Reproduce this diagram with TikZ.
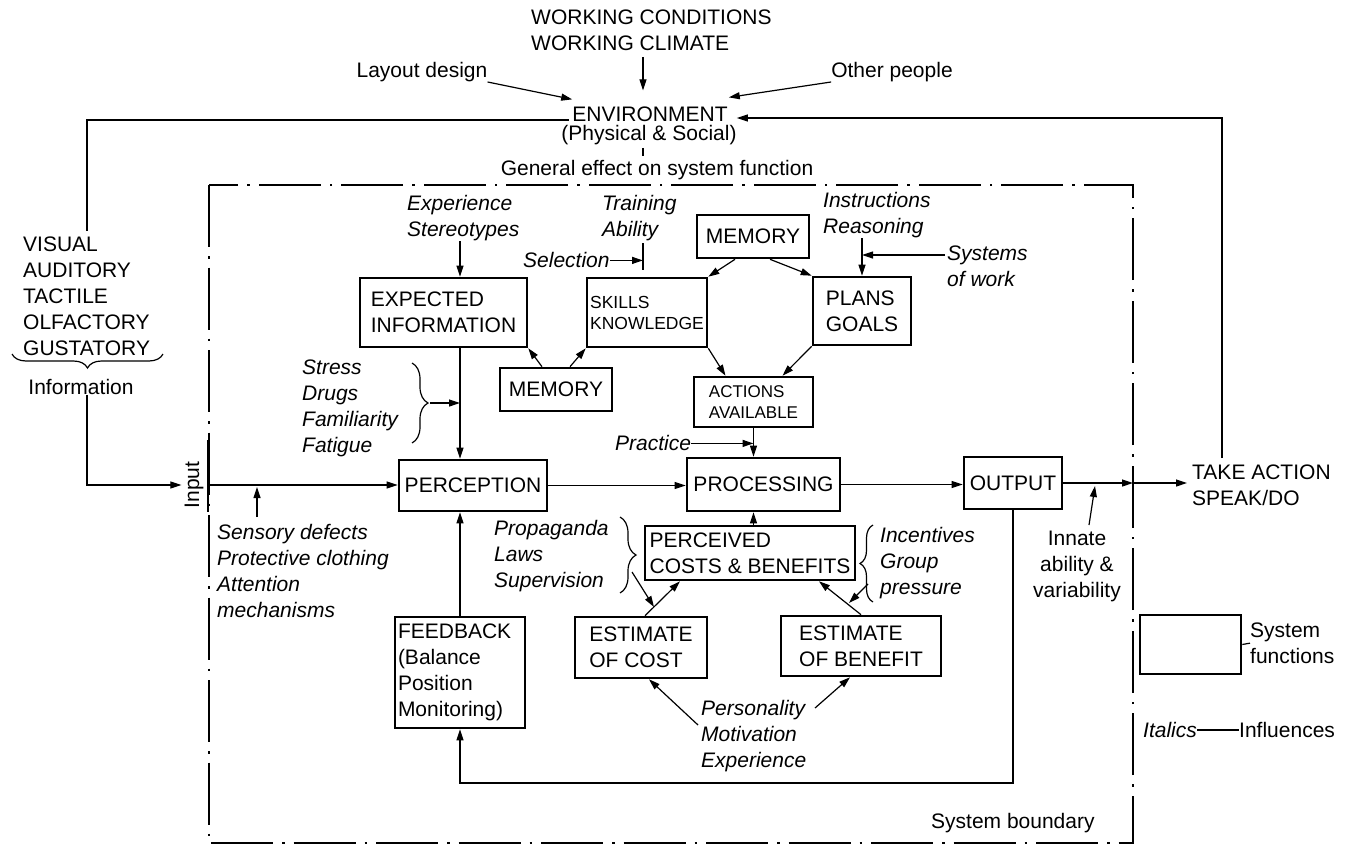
\documentclass[tikz,border=0pt]{standalone}
\usepackage{fontspec}
\setmainfont{Liberation Sans}
\usetikzlibrary{arrows.meta,decorations.pathreplacing,calc}
\hyphenpenalty=10000
\exhyphenpenalty=10000
\begin{document}
\begin{tikzpicture}[x=1pt,y=-1pt,
  every node/.style={font=\fontsize{21}{26}\selectfont, inner sep=0pt},
  it/.style={font=\fontsize{21}{26}\selectfont\itshape, align=left, anchor=north west},
  up/.style={align=left, anchor=north west},
  box/.style={draw, line width=2.6pt, align=left},
  small/.style={font=\fontsize{17.5}{21}\selectfont},
  con/.style={line width=1.2pt},
  arr/.style={con, -{Triangle[length=11pt,width=7pt]}},
  bound/.style={line width=2pt, dash pattern=on 62pt off 9pt on 2.5pt off 9pt},
  brc/.style={con, decorate, decoration={brace, amplitude=#1}},
]
\useasboundingbox (0,0) rectangle (1349,846);
\fill[white] (0,0) rectangle (1349,846);

% ---------- top ----------
\node[up] (wc) at (531,9.5) {WORKING CONDITIONS\\WORKING CLIMATE};
\node (env) at (650,114) {ENVIRONMENT};
\node (phys) at (649,135) {(Physical \& Social)};
\node (gen) at (657,170) {General effect on system function};
\node (lay) at (422,72) {Layout design};
\node (oth) at (892,72) {Other people};
\coordinate (ax) at (643,0);
\draw[arr, shorten <=6pt, shorten >=16pt] (wc.south -| ax) -- (env.north -| ax);
\draw[arr] (lay.south east) -- ([yshift=7pt]env.north west);
\draw[arr] (oth.south west) -- ([yshift=9pt,xshift=1pt]env.north east);
\draw[con, shorten <=3pt, shorten >=4pt] (phys.south -| ax) -- (gen.north -| ax);

% environment loops
\coordinate (lf) at (87,120);
\coordinate (rf) at (1222,118);
\coordinate (rfb) at (1222,458);
\node[up] (vis) at (23,236.5) {VISUAL\\AUDITORY\\TACTILE\\OLFACTORY\\GUSTATORY};
\draw[con, shorten >=6pt] ([yshift=-6pt,xshift=-3pt]env.west) -- (lf) -- (lf |- vis.north);
\draw[arr, shorten >=9pt] (rfb) -- (rf) -- (env.east |- rf);

% ---------- system boundary ----------
\draw[bound] (209,185) rectangle (1133,843);
\draw[line width=2pt] (208,440) -- (208,512);
\node (sb) [anchor=west] at (931,823) {System boundary};

% ---------- left information ----------
\draw[brc=14pt] (163,354) -- (12,354);
\node (info) at (81,387) {Information};
\coordinate (iL) at (87,485);
\coordinate (inb) at (208,485);
\node[rotate=90, inner sep=3pt] (inp) at (194,485) {Input};
\draw[arr] (info.south -| iL) -- (iL) -- (inp.north |- iL);

% ---------- boxes ----------
\node[box, minimum width=167pt, minimum height=69pt] (EXP) at (443.5,312.5) {EXPECTED\\INFORMATION};
\node[box, small, minimum width=120pt, minimum height=69pt] (SKL) at (647,312.5) {SKILLS\\KNOWLEDGE};
\node[box, minimum width=112pt, minimum height=43pt] (MEM1) at (753,236.5) {MEMORY};
\node[box, minimum width=98pt, minimum height=68pt] (PLANS) at (862,311) {PLANS\\GOALS};
\node[box, minimum width=112pt, minimum height=43pt] (MEM2) at (556,389.5) {MEMORY};
\node[box, font=\fontsize{17}{21}\selectfont, minimum width=119pt, minimum height=50pt] (ACT) at (753.5,402) {ACTIONS\\AVAILABLE};
\node[box, minimum width=148pt, minimum height=51pt] (PERC) at (473,485.5) {PERCEPTION};
\node[box, minimum width=153pt, minimum height=53pt] (PROC) at (763.5,484.5) {PROCESSING};
\node[box, minimum width=98pt, minimum height=52pt] (OUT) at (1013,483) {OUTPUT};
\node[box, minimum width=210pt, minimum height=54pt] (PCB) at (750,553) {PERCEIVED\\COSTS \& BENEFITS};
\node[box, minimum width=130pt, minimum height=111pt, text width=124pt] (FB) at (460,672.5) {FEEDBACK\\(Balance\\Position\\Monitoring)};
\node[box, minimum width=132pt, minimum height=61pt] (EC) at (641,647.5) {ESTIMATE\\OF COST};
\node[box, minimum width=160pt, minimum height=60pt] (EB) at (861,646) {ESTIMATE\\OF BENEFIT};

% ---------- influences (italics) ----------
\node[it] (exs) at (407,195.5) {Experience\\Stereotypes};
\node[it] (tra) at (602,195.5) {Training\\Ability};
\node[it] (sel) at (523,252.5) {Selection};
\node[it] (ins) at (823,192.5) {Instructions\\Reasoning};
\node[it] (sys) at (947,245.5) {Systems\\of work};
\node[it] (str) at (302,359.5) {Stress\\Drugs\\Familiarity\\Fatigue};
\node[it] (sens) at (217,524.5) {Sensory defects\\Protective clothing\\Attention\\mechanisms};
\node[it] (pra) at (615,435.5) {Practice};
\node[it] (pro) at (494,520.5) {Propaganda\\Laws\\Supervision};
\node[it] (inc) at (880,527.5) {Incentives\\Group\\pressure};
\node[it] (per) at (701,700.5) {Personality\\Motivation\\Experience};
\node[align=center, anchor=north] (inn) at (1077,530.5) {Innate\\ability \&\\variability};
\node[up] (take) at (1192,464.5) {TAKE ACTION\\SPEAK/DO};

% ---------- connectors ----------
\draw[arr] (exs.south -| FB) -- (EXP.north -| FB);
\coordinate (tk1) at (643,243);
\coordinate (tk2) at (643,270);
\draw[con] (tk1) -- (tk2);
\draw[arr] (sel.east) -- (sel.east -| tk1);
\draw[arr] (ins.south -| PLANS) -- (PLANS.north);
\coordinate (syl) at (945,255);
\draw[arr] (syl) -- (syl -| PLANS);

\draw[arr] ([xshift=-18pt]MEM1.south) -- (SKL.north east);
\draw[arr] ([xshift=17pt]MEM1.south) -- (PLANS.north west);
\draw[arr] (SKL.south east) -- ([xshift=-28pt]ACT.north);
\draw[arr] (PLANS.south west) -- ([xshift=29pt]ACT.north);
\draw[arr] ([xshift=-14pt]MEM2.north) -- (EXP.south east);
\draw[arr] ([xshift=14pt]MEM2.north) -- (SKL.south west);

\draw[brc=16pt] (412,363) -- (412,443);
\coordinate (stip) at (430,403);
\draw[arr] (stip) -- (stip -| FB);
\draw[arr] (EXP.south -| FB) -- (PERC.north -| FB);
\draw[arr] (FB.north) -- (PERC.south -| FB);

\draw[arr] (inb) -- (PERC.west |- inb);
\coordinate (sxb) at (257,517);
\coordinate (sx) at (257,487);
\draw[arr] (sxb) -- (sx);

\draw[arr] (PERC.east) -- (PERC.east -| PROC.west);
\draw[arr] (PROC.east) -- (PROC.east -| OUT.west);
\draw[arr] (ACT.south) -- (ACT.south |- PROC.north);
\draw[arr] (pra.east) -- (pra.east -| ACT);
\draw[arr] (PCB.north -| ACT) -- (PROC.south -| ACT);

\draw[arr] ([xshift=4pt]EC.north) -- ([xshift=-70pt]PCB.south);
\draw[arr] (EB.north) -- ([xshift=69pt]PCB.south);
\draw[brc=16pt] (620,517) -- (620,593);
\coordinate (pb) at (632,572);
\coordinate (pt) at (654,607);
\draw[arr] (pb) -- (pt);
\draw[brc=13pt] (873,602) -- (873,525);
\coordinate (ib) at (868,584);
\coordinate (it) at (849,603);
\draw[arr] (ib) -- (it);

\coordinate (pe) at (815,708);
\draw[arr] (pe) -- ([xshift=-11pt]EB.south);
\coordinate (mo) at (698,725);
\draw[arr] (mo) -- ([xshift=8pt]EC.south);

\coordinate (ob) at (1133,483);
\draw[arr] (OUT.east) -- (ob);
\draw[arr, shorten >=5pt] (ob) -- (take.west |- ob);
\coordinate (inb2) at (1089,525);
\coordinate (int) at (1095,486);
\draw[arr] (inb2) -- (int);

\coordinate (fbl) at (460,783);
\draw[arr] (OUT.south) |- (fbl) -- (FB.south);

% ---------- legend ----------
\node[draw, line width=2.6pt, minimum width=101pt, minimum height=59pt] (leg) at (1190.5,644.5) {};
\node[up] (sf) at (1250,622.5) {System\\functions};
\draw[con] (leg.east) -- (sf.west);
\node[it, anchor=west] (ita) at (1143,730) {Italics};
\node[anchor=west] (inf) at (1239,730) {Influences};
\draw[con] (ita.east) -- (inf.west);
\end{tikzpicture}
\end{document}
